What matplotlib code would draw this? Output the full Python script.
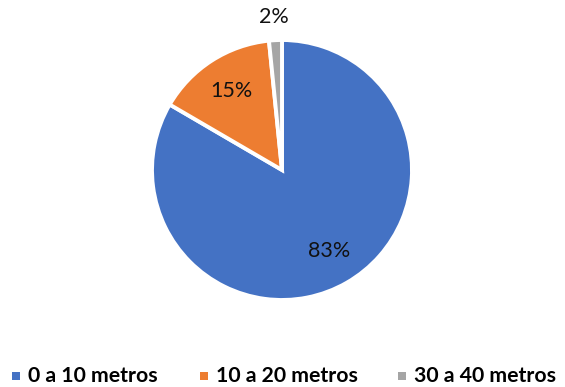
import matplotlib.pyplot as plt
from matplotlib.patches import Rectangle
import numpy as np

plt.rcParams['font.family'] = ['Lato', 'DejaVu Sans']

categories = ['0 a 10 metros', '10 a 20 metros', '30 a 40 metros']
shares = [83.4, 15.0, 1.6]
pct_labels = ['83%', '15%', '2%']
colors = ['#4472C4', '#ED7D31', '#A5A5A5']

W, H = 565, 387
fig = plt.figure(figsize=(W / 100, H / 100), dpi=100)
cx, cy, r = 282, 170, 130
ax = fig.add_axes([(cx - r) / W, (H - cy - r) / H, 2 * r / W, 2 * r / H])

wedges, _ = ax.pie(shares, colors=colors, startangle=90, counterclock=False,
                   radius=1, wedgeprops=dict(edgecolor='white', linewidth=2.8))
ax.set_xlim(-1, 1)
ax.set_ylim(-1, 1)
ax.set_aspect('equal')
ax.axis('off')

# percentage labels, inside for the big slices, outside for the small one
dists = [0.72, 0.72, 1.18]
for w, txt, d in zip(wedges, pct_labels, dists):
    ang = np.deg2rad((w.theta1 + w.theta2) / 2)
    ax.text(d * np.cos(ang), d * np.sin(ang), txt, ha='center', va='center',
            fontsize=15.5, color='#111111', clip_on=False)

# legend drawn by hand so the three entries sit where they are in the original
leg_x = [12, 200, 398]
leg_y = 376
for x0, c, lab in zip(leg_x, colors, categories):
    fig.patches.append(Rectangle((x0 / W, (H - leg_y - 4) / H), 8 / W, 8 / H,
                                 facecolor=c, edgecolor='none',
                                 transform=fig.transFigure))
    fig.text((x0 + 16) / W, 1 - leg_y / H, lab, ha='left', va='center',
             fontsize=15.3, weight='bold', color='#000000')

fig.savefig('out.png', dpi=100)
